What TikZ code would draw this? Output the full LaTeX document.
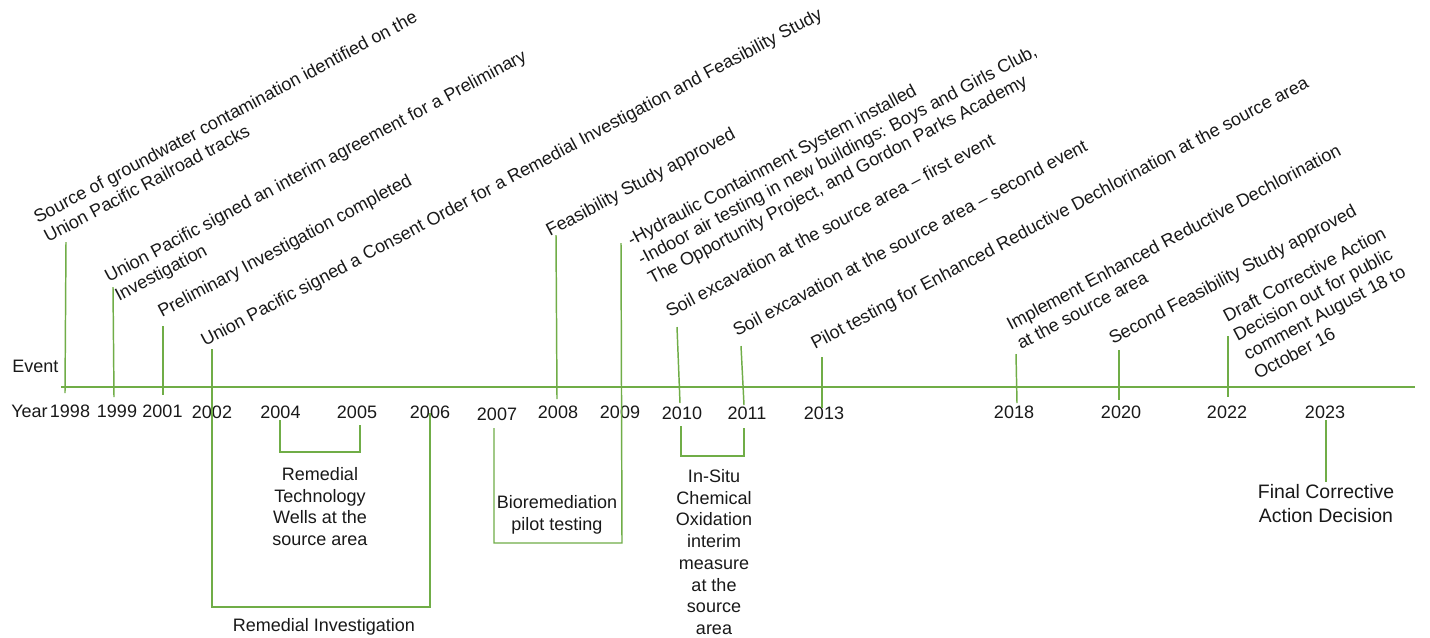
\documentclass[tikz,border=0pt]{standalone}
\usepackage{fontspec}
\setmainfont{Liberation Sans}
\definecolor{lg}{RGB}{112,173,71}
\definecolor{tx}{RGB}{25,25,25}
\newcommand{\evfont}{\fontsize{13.5}{16.3}\selectfont}
\newcommand{\fcfont}{\fontsize{14.6}{18}\selectfont}
\tikzset{
  tl/.style={draw=lg, line width=1.1pt},
  evt/.style={rotate=28, anchor=south west, inner sep=0pt, align=left, font=\evfont, text=tx},
  yr/.style={anchor=base, inner sep=0pt, font=\evfont, text=tx},
  bot/.style={anchor=north, inner sep=0pt, align=center, font=\evfont, text=tx}
}
\begin{document}
\begin{tikzpicture}[x=0.75pt,y=-0.75pt]
\useasboundingbox[fill=white] (0,0) rectangle (1430,637);

% axis
\coordinate (axL) at (61,387);
\coordinate (axR) at (1415,387);
\draw[tl] (axL) -- (axR);

\node[yr, anchor=base west] (lEvent) at (12,372) {Event};
\node[yr, anchor=base west] (lYear) at (11,417) {Year};

% year labels
\node[yr] (y1998) at (70,417) {1998};
\node[yr] (y1999) at (117,417) {1999};
\node[yr] (y2001) at (162.5,417) {2001};
\node[yr] (y2002) at (212,418) {2002};
\node[yr] (y2004) at (280.5,418) {2004};
\node[yr] (y2005) at (357,418) {2005};
\node[yr] (y2006) at (430,418) {2006};
\node[yr] (y2007) at (497,420) {2007};
\node[yr] (y2008) at (558,418) {2008};
\node[yr] (y2009) at (620,418) {2009};
\node[yr] (y2010) at (682,419) {2010};
\node[yr] (y2011) at (747,419) {2011};
\node[yr] (y2013) at (824,419) {2013};
\node[yr] (y2018) at (1014,418) {2018};
\node[yr] (y2020) at (1121,418) {2020};
\node[yr] (y2022) at (1227,418) {2022};
\node[yr] (y2023) at (1325,418) {2023};

% event texts
\node[evt] (e1998) at (51,249) {Source of groundwater contamination identified on the\\Union Pacific Railroad tracks\strut};
\node[evt] (e1999) at (122,308) {Union Pacific signed an interim agreement for a Preliminary\\Investigation\strut};
\node[evt] (e2001) at (165,324) {Preliminary Investigation completed\strut};
\node[evt] (e2002) at (208,353) {Union Pacific signed a Consent Order for a Remedial Investigation and Feasibility Study\strut};
\node[evt] (e2008) at (553,243) {Feasibility Study approved\strut};
\node[evt] (e2009) at (655,291) {-Hydraulic Containment System installed\\-Indoor air testing in new buildings: Boys and Girls Club,\\The Opportunity Project, and Gordon Parks Academy\strut};
\node[evt] (e2010) at (673,324) {Soil excavation at the source area – first event\strut};
\node[evt] (e2011) at (740,343) {Soil excavation at the source area – second event\strut};
\node[evt] (e2013) at (818,356) {Pilot testing for Enhanced Reductive Dechlorination at the source area\strut};
\node[evt] (e2018) at (1024,356) {Implement Enhanced Reductive Dechlorination\\at the source area\strut};
\node[evt] (e2020) at (1116,351) {Second Feasibility Study approved\strut};
\node[evt] (e2022) at (1261,386) {Draft Corrective Action\\Decision out for public\\comment August 18 to\\October 16\strut};

% event ticks
\coordinate (t98a) at (66,242);   \coordinate (t98b) at (65,393);
\coordinate (t99a) at (113,287);  \coordinate (t99b) at (114,397);
\coordinate (t01a) at (163,326);  \coordinate (t01b) at (163,395);
\coordinate (t08a) at (556,235);  \coordinate (t08b) at (557,399);
\coordinate (t10a) at (677,327);  \coordinate (t10b) at (680,403);
\coordinate (t11a) at (741,346);  \coordinate (t11b) at (744,405);
\coordinate (t13a) at (822,357);  \coordinate (t13b) at (822,408);
\coordinate (t18a) at (1016,354); \coordinate (t18b) at (1017,403);
\coordinate (t20a) at (1119,350); \coordinate (t20b) at (1119,400);
\coordinate (t22a) at (1228,336); \coordinate (t22b) at (1228,397);
\draw[tl] (t98a) -- (t98b);
\draw[tl] (t99a) -- (t99b);
\draw[tl] (t01a) -- (t01b);
\draw[tl] (t08a) -- (t08b);
\draw[tl] (t10a) -- (t10b);
\draw[tl] (t11a) -- (t11b);
\draw[tl] (t13a) -- (t13b);
\draw[tl] (t18a) -- (t18b);
\draw[tl] (t20a) -- (t20b);
\draw[tl] (t22a) -- (t22b);

% bracket 2002-2006 (with 2002 event tick)
\coordinate (b02a) at (212,349); \coordinate (b02b) at (212,607);
\coordinate (b06b) at (430,607); \coordinate (b06a) at (430,413);
\draw[tl] (b02a) -- (b02b) -- (b06b) -- (b06a);

% bracket 2004-2005
\coordinate (b04a) at (280,420); \coordinate (b04b) at (280,452);
\coordinate (b05b) at (360,452); \coordinate (b05a) at (360,425);
\draw[tl] (b04a) -- (b04b) -- (b05b) -- (b05a);

% bracket 2007-2009 (with 2009 event tick)
\coordinate (b07a) at (494,428); \coordinate (b07b) at (494,543);
\coordinate (b09b) at (622,543); \coordinate (b09a) at (621,243);
\draw[tl] (b07a) -- (b07b) -- (b09b) -- (b09a);

% bracket 2010-2011
\coordinate (b10a) at (681,426); \coordinate (b10b) at (681,456);
\coordinate (b11b) at (744,456); \coordinate (b11a) at (744,428);
\draw[tl] (b10a) -- (b10b) -- (b11b) -- (b11a);

% 2023 line
\coordinate (t23a) at (1326,420); \coordinate (t23b) at (1326,482);
\draw[tl] (t23a) -- (t23b);

% bottom texts
\node[bot] (rtw) at (320,465) {\strut Remedial\\Technology\\Wells at the\\source area};
\node[yr] (rinv) at (324,631) {Remedial Investigation};
\node[bot] (bio) at (557,493) {\strut Bioremediation\\pilot testing};
\node[bot] (isco) at (714,467) {\strut In-Situ\\Chemical\\Oxidation\\interim\\measure\\at the\\source\\area};
\node[bot, font=\fcfont] (fcad) at (1326,481) {\strut Final Corrective\\Action Decision};
\end{tikzpicture}
\end{document}
